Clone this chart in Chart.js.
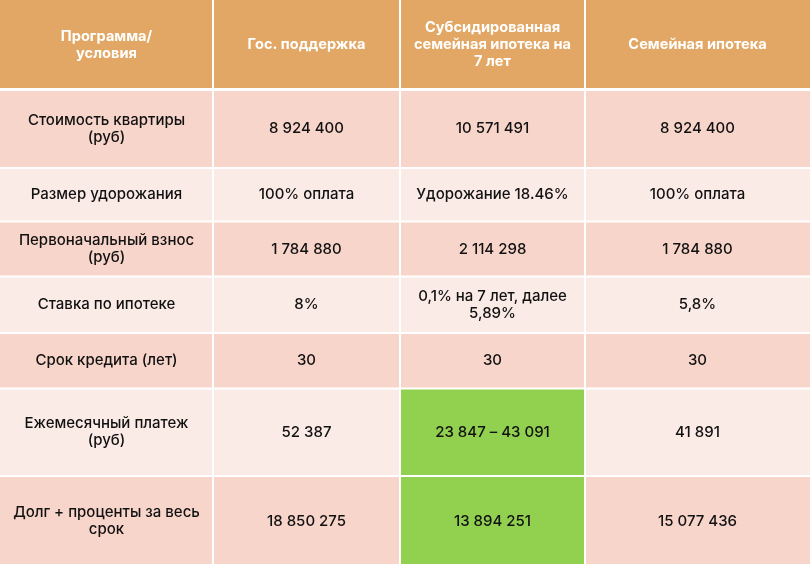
<!DOCTYPE html>
<html>
<head>
<meta charset="utf-8">
<script src="https://cdn.jsdelivr.net/npm/chart.js@4.4.1/dist/chart.umd.min.js"></script>
<style>
  html, body { margin: 0; padding: 0; background: #ffffff; }
  #wrap { width: 810px; height: 564px; position: relative; }
</style>
</head>
<body>
<div id="wrap"><canvas id="tbl"></canvas></div>
<script>
// table content
var headers = ["Программа/\nусловия", "Гос. поддержка", "Субсидированная\nсемейная ипотека на\n7 лет", "Семейная ипотека"];
var conditions = [
  "Стоимость квартиры\n(руб)",
  "Размер удорожания",
  "Первоначальный взнос\n(руб)",
  "Ставка по ипотеке",
  "Срок кредита (лет)",
  "Ежемесячный платеж\n(руб)",
  "Долг + проценты за весь\nсрок"
];
var gosSupport = ["8 924 400", "100% оплата", "1 784 880", "8%", "30", "52 387", "18 850 275"];
var subsidized = ["10 571 491", "Удорожание 18.46%", "2 114 298", "0,1% на 7 лет, далее\n5,89%", "30", "23 847 – 43 091", "13 894 251"];
var familyMortgage = ["8 924 400", "100% оплата", "1 784 880", "5,8%", "30", "41 891", "15 077 436"];
// best values highlighted (row indexes in the subsidized column)
var highlighted = [5, 6];

// layout (in scale units, same as pixels here)
var colEdges = [0, 213, 400, 585, 810];
var rowEdges = [0, 89.5, 168, 221.5, 276.5, 333, 388.5, 476, 566];

var headerColor = "#e2a764";
var rowDark = "#f8d5cb";
var rowLight = "#fbebe6";
var greenCell = "#92d050";

var columns = [conditions, gosSupport, subsidized, familyMortgage];

var tablePlugin = {
  id: "tableCells",
  beforeDatasetsDraw: function(chart) {
    var ctx = chart.ctx;
    var xs = chart.scales.x, ys = chart.scales.y;
    ctx.save();
    for (var r = 0; r < rowEdges.length - 1; r++) {
      for (var c = 0; c < colEdges.length - 1; c++) {
        var x0 = xs.getPixelForValue(colEdges[c]);
        var x1 = xs.getPixelForValue(colEdges[c + 1]);
        var y0 = ys.getPixelForValue(rowEdges[r]);
        var y1 = ys.getPixelForValue(rowEdges[r + 1]);
        var fill, text, color, font;
        if (r == 0) {
          fill = headerColor;
          text = headers[c];
          color = "#ffffff";
          font = "700 14.6px Inter";
        } else {
          fill = (r % 2 == 1) ? rowDark : rowLight;
          if (c == 2 && highlighted.indexOf(r - 1) >= 0) fill = greenCell;
          text = columns[c][r - 1];
          color = "#111111";
          font = "500 15px Inter";
        }
        ctx.fillStyle = fill;
        ctx.fillRect(x0, y0, x1 - x0, y1 - y0);

        var lines = text.split("\n");
        var lh = 17;
        var cx = (x0 + x1) / 2, cy = (y0 + y1) / 2;
        ctx.fillStyle = color;
        ctx.font = font;
        ctx.textAlign = "center";
        ctx.textBaseline = "middle";
        for (var i = 0; i < lines.length; i++) {
          ctx.fillText(lines[i], cx, cy + (i - (lines.length - 1) / 2) * lh);
        }
      }
    }
    // white grid lines
    ctx.strokeStyle = "#ffffff";
    ctx.lineWidth = 2;
    for (var c = 1; c < colEdges.length - 1; c++) {
      var x = xs.getPixelForValue(colEdges[c]);
      ctx.beginPath();
      ctx.moveTo(x, ys.getPixelForValue(rowEdges[0]));
      ctx.lineTo(x, ys.getPixelForValue(rowEdges[rowEdges.length - 1]));
      ctx.stroke();
    }
    for (var r = 1; r < rowEdges.length - 1; r++) {
      var y = ys.getPixelForValue(rowEdges[r]);
      ctx.lineWidth = (r == 1) ? 3 : 2;
      ctx.beginPath();
      ctx.moveTo(xs.getPixelForValue(colEdges[0]), y);
      ctx.lineTo(xs.getPixelForValue(colEdges[colEdges.length - 1]), y);
      ctx.stroke();
    }
    ctx.restore();
  }
};

new Chart("tbl", {
  type: "scatter",
  data: { datasets: [{ data: [] }] },
  options: {
    responsive: true,
    maintainAspectRatio: false,
    animation: false,
    layout: { padding: 0 },
    plugins: { legend: { display: false }, tooltip: { enabled: false } },
    scales: {
      x: { type: "linear", min: 0, max: 810, display: false },
      y: { type: "linear", min: 0, max: 564, reverse: true, display: false }
    }
  },
  plugins: [tablePlugin]
});
</script>
</body>
</html>
